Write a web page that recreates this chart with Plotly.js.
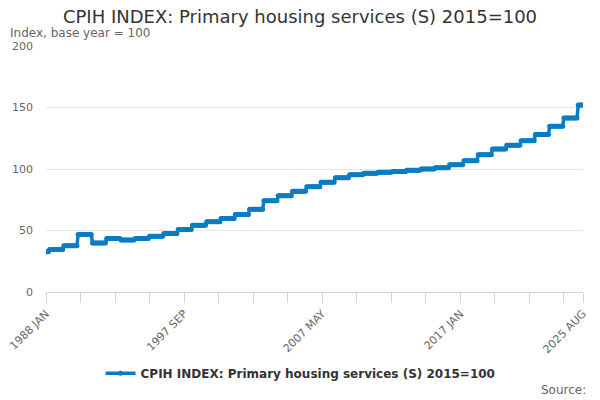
<!DOCTYPE html>
<html>
<head>
<meta charset="utf-8">
<script src="https://cdn.plot.ly/plotly-3.0.1.min.js"></script>
<style>html,body{margin:0;padding:0;background:#fff;}#chart{width:600px;height:400px;}</style>
</head>
<body>
<div id="chart"></div>
<script>
// Index level for each April-to-March period (first entry: Jan-Mar 1988)
const periodStarts = ["1988 JAN","1988 APR","1989 APR","1990 APR","1991 APR","1992 APR","1993 APR","1994 APR","1995 APR","1996 APR","1997 APR","1998 APR","1999 APR","2000 APR","2001 APR","2002 APR","2003 APR","2004 APR","2005 APR","2006 APR","2007 APR","2008 APR","2009 APR","2010 APR","2011 APR","2012 APR","2013 APR","2014 APR","2015 APR","2016 APR","2017 APR","2018 APR","2019 APR","2020 APR","2021 APR","2022 APR","2023 APR","2024 APR","2025 APR"];
const periodValues = [32.8,34.6,37.6,46.8,39.8,43.4,42.2,43.4,45.3,47.6,50.8,54.3,57.2,59.7,63.0,67.2,74.2,78.2,82.0,85.6,89.3,92.9,95.3,96.5,97.4,98.0,98.9,100.0,101.1,103.5,106.8,111.6,116.2,119.3,123.0,128.0,134.8,141.4,152.0];
const firstMonth = "1988 JAN";
const lastMonth = "2025 AUG";
const tickLabels = ["1988 JAN","1997 SEP","2007 MAY","2017 JAN","2025 AUG"];
const yTicks = [0,50,100,150,200];
const seriesName = "CPIH INDEX: Primary housing services (S) 2015=100";

const MONTHS = ["JAN","FEB","MAR","APR","MAY","JUN","JUL","AUG","SEP","OCT","NOV","DEC"];
function toIdx(s){const p=s.split(" ");return (+p[0])*12+MONTHS.indexOf(p[1]);}
const i0 = toIdx(firstMonth), i1 = toIdx(lastMonth);
const cats = [], vals = [];
const starts = periodStarts.map(toIdx);
for (let i=i0;i<=i1;i++){
  cats.push(Math.floor(i/12)+" "+MONTHS[i%12]);
  let k=0; for (let j=0;j<starts.length;j++){ if (starts[j]<=i) k=j; }
  vals.push(periodValues[k]);
}
const xIdx = cats.map((c,i)=>i);
const tickvals=[], ticktext=[];
for (let i=0;i<cats.length;i+=29){tickvals.push(i);ticktext.push(tickLabels.includes(cats[i])?cats[i]:"");}
if (tickvals[tickvals.length-1]!==cats.length-1){tickvals.push(cats.length-1);ticktext.push(cats[cats.length-1]);}

const color = "#0a7dc2";
const trace = {
  x: xIdx, y: vals, text: cats, name: seriesName, type: "scatter", mode: "lines+markers",
  line: {color: color, width: 3.5}, marker: {color: color, size: 5},
  hovertemplate: "%{text}: %{y}<extra></extra>"
};
const layout = {
  width: 600, height: 400,
  margin: {l: 46, r: 17, t: 46, b: 108},
  paper_bgcolor: "#fff", plot_bgcolor: "#fff",
  font: {family: "DejaVu Sans, sans-serif", color: "#666", size: 11},
  title: {text: "CPIH INDEX: Primary housing services (S) 2015=100", x: 0.5, xanchor: "center", y: 0.958, yanchor: "middle", yref: "container", font: {size: 18, color: "#333"}},
  xaxis: {range: [0, cats.length-1], tickvals: tickvals, ticktext: ticktext, tickangle: -45, ticks: "outside", ticklen: 10, tickcolor: "#ccd6eb", showline: true, linecolor: "#ccd6eb", linewidth: 1, showgrid: false, zeroline: false, tickfont: {size: 11, color: "#666"}},
  yaxis: {range: [0, 200], tickvals: yTicks, showgrid: true, gridcolor: "#e6e6e6", zeroline: false, showline: false, ticks: "", ticklabelstandoff: 12, tickfont: {size: 11, color: "#666"}},
  showlegend: true,
  legend: {orientation: "h", x: 0.474, xanchor: "center", y: -0.33, yanchor: "middle", font: {size: 12, color: "#333", weight: "bold"}},
  annotations: [
    {text: "Index, base year = 100", xref: "paper", yref: "paper", x: -0.071, y: 1.053, xanchor: "left", yanchor: "middle", showarrow: false, font: {size: 12, color: "#666"}},
    {text: "Source:", xref: "paper", yref: "paper", x: 1.0093, y: -0.398, xanchor: "right", yanchor: "middle", showarrow: false, font: {size: 12, color: "#666"}}
  ]
};
Plotly.newPlot("chart", [trace], layout, {displayModeBar: false, staticPlot: true});
</script>
</body>
</html>
